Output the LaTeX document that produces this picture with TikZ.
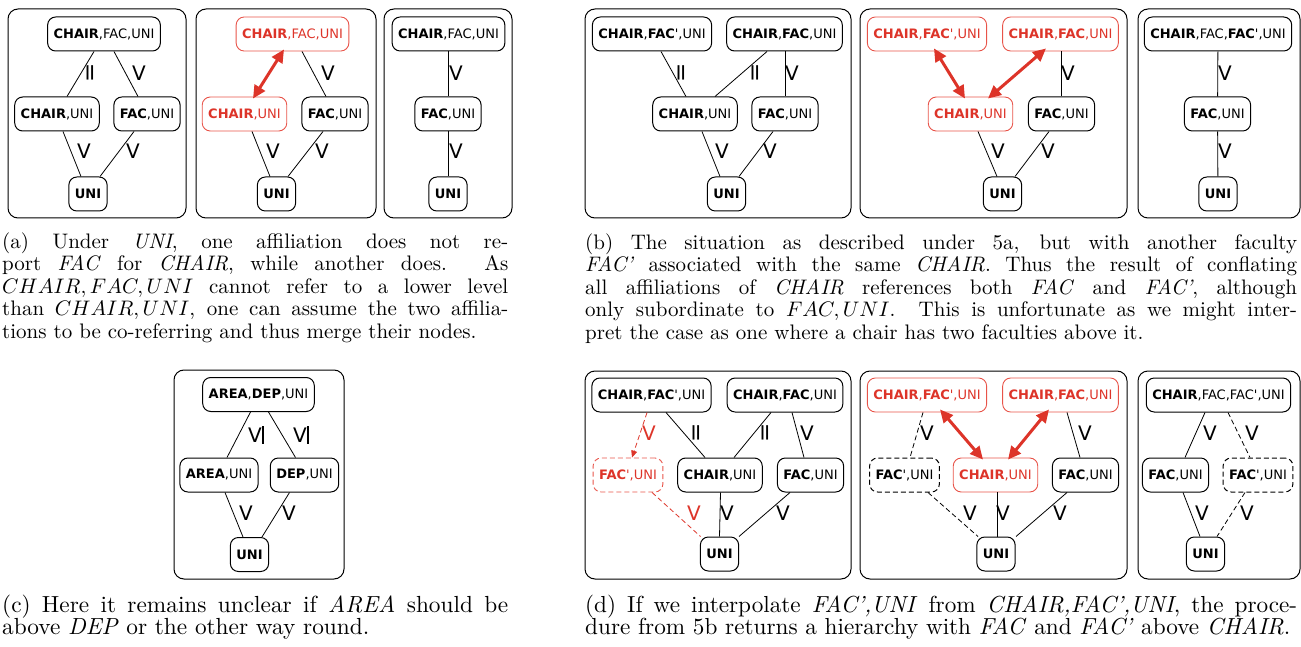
\documentclass[tikz,border=0pt]{standalone}
\usepackage{fontspec}
\usepackage{graphicx}
\usetikzlibrary{arrows.meta}
\newfontfamily\dv{DejaVu Sans}
\definecolor{arrowred}{RGB}{221,52,41}
\definecolor{nodered}{RGB}{232,84,74}
\newcommand\nfont{\dv\fontsize{13}{15}\selectfont}
\newcommand\lfont{\dv\fontsize{20}{20}\selectfont}
\newcommand\efont{\dv\fontsize{23}{23}\selectfont}
\newcommand\bt[1]{{\bfseries #1}}
\newcommand\VB{V\kern0.6pt\rule[-1.5pt]{1.3pt}{17.5pt}}
\newcommand\capl[3]{\scalebox{#1}{\makebox[#2][s]{#3}}}
\newcommand\capn[2]{\scalebox{#1}{#2}}
\begin{document}
\begin{tikzpicture}[x=1pt,y=-1pt,
  frame/.style={draw, line width=1pt, rounded corners=10pt},
  nd/.style={draw, line width=1pt, rounded corners=8pt, minimum height=34pt, inner xsep=6pt, inner ysep=0pt, font=\nfont},
  rnd/.style={nd, draw=nodered, text=arrowred, line width=0.9pt},
  dsh/.style={dash pattern=on 5pt off 3pt},
  ln/.style={line width=0.8pt},
  big/.style={draw=arrowred, line width=3pt, {Triangle[length=13pt,width=12pt]}-{Triangle[length=13pt,width=12pt]}},
  rdarr/.style={draw=arrowred, line width=0.8pt, dsh, -{Triangle[length=7pt,width=6pt]}},
  rdln/.style={draw=arrowred, line width=0.8pt, dsh},
  lab/.style={inner sep=0pt, font=\lfont},
  eqlab/.style={inner sep=0pt, font=\efont, rotate=90},
  captxt/.style={anchor=base west, inner sep=0pt}]
\useasboundingbox (0,0) rectangle (1301,647);

% ---------- frames
\draw[frame] (8,9) rectangle (186,218);
\draw[frame] (196,9) rectangle (376,218);
\draw[frame] (384,9) rectangle (512,218);
\draw[frame] (585,9) rectangle (851,218);
\draw[frame] (860,9) rectangle (1127,218);
\draw[frame] (1138,9) rectangle (1300,218);
\draw[frame] (174,370) rectangle (344,579);
\draw[frame] (585,371) rectangle (851,579);
\draw[frame] (860,371) rectangle (1127,579);
\draw[frame] (1138,371) rectangle (1300,579);

% ---------- panel a1
\node[nd] (a1t) at (104,34) {\bt{CHAIR},FAC,UNI};
\node[nd] (a1c) at (57,114) {\bt{CHAIR},UNI};
\node[nd] (a1f) at (147,114) {\bt{FAC},UNI};
\node[nd] (a1u) at (88,194) {\bt{UNI}};
\draw[ln] ([xshift=-10pt]a1t.south) -- ([xshift=10pt]a1c.north);
\draw[ln] ([xshift=10pt]a1t.south) -- ([xshift=-9pt]a1f.north);
\draw[ln] ([xshift=6pt]a1c.south) -- ([xshift=-7pt]a1u.north);
\draw[ln] ([xshift=-13pt]a1f.south) -- ([xshift=12pt]a1u.north);
\node[eqlab] (a1l1) at (92,73) {=};
\node[lab] (a1l2) at (139,73) {V};
\node[lab] (a1l3) at (84,151) {V};
\node[lab] (a1l4) at (133,151) {V};

% ---------- panel a2
\node[rnd] (a2t) at (292.5,34) {\bt{CHAIR},FAC,UNI};
\node[rnd] (a2c) at (244.5,114) {\bt{CHAIR},UNI};
\node[nd] (a2f) at (335,114) {\bt{FAC},UNI};
\node[nd] (a2u) at (276.5,194) {\bt{UNI}};
\draw[big] ([xshift=-8.5pt,yshift=2pt]a2t.south) -- ([xshift=8.5pt,yshift=-2pt]a2c.north);
\draw[ln] ([xshift=9.5pt]a2t.south) -- ([xshift=-9pt]a2f.north);
\draw[ln] ([xshift=7.5pt]a2c.south) -- ([xshift=-6.5pt]a2u.north);
\draw[ln] ([xshift=-12pt]a2f.south) -- ([xshift=11.5pt]a2u.north);
\node[lab] (a2l1) at (328,73) {V};
\node[lab] (a2l2) at (273,151) {V};
\node[lab] (a2l3) at (322,151) {V};

% ---------- panel a3
\node[nd] (a3t) at (448.5,34) {\bt{CHAIR},FAC,UNI};
\node[nd] (a3f) at (448,114) {\bt{FAC},UNI};
\node[nd] (a3u) at (448,194) {\bt{UNI}};
\draw[ln] ([xshift=-0.5pt]a3t.south) -- (a3f.north);
\draw[ln] (a3f) -- (a3u);
\node[lab] (a3l1) at (456,73) {V};
\node[lab] (a3l2) at (456,151) {V};

% ---------- panel b1
\node[nd] (b1p) at (652,34) {\bt{CHAIR},\bt{FAC}',UNI};
\node[nd] (b1q) at (784.5,34) {\bt{CHAIR},\bt{FAC},UNI};
\node[nd] (b1c) at (695,114) {\bt{CHAIR},UNI};
\node[nd] (b1f) at (785,114) {\bt{FAC},UNI};
\node[nd] (b1u) at (726.5,194) {\bt{UNI}};
\draw[ln] ([xshift=9pt]b1p.south) -- ([xshift=-9pt]b1c.north);
\draw[ln] ([xshift=-17.5pt]b1q.south) -- ([xshift=20pt]b1c.north);
\draw[ln] ([xshift=0.5pt]b1q.south) -- (b1f.north);
\draw[ln] ([xshift=7pt]b1c.south) -- ([xshift=-6.5pt]b1u.north);
\draw[ln] ([xshift=-12pt]b1f.south) -- ([xshift=12.5pt]b1u.north);
\node[eqlab] (b1l1) at (683,73) {=};
\node[eqlab] (b1l2) at (757,73) {=};
\node[lab] (b1l3) at (792,73) {V};
\node[lab] (b1l4) at (722,151) {V};
\node[lab] (b1l5) at (770,151) {V};

% ---------- panel b2
\node[rnd] (b2p) at (927,34) {\bt{CHAIR},\bt{FAC}',UNI};
\node[rnd] (b2q) at (1060.5,34) {\bt{CHAIR},\bt{FAC},UNI};
\node[rnd] (b2c) at (970.5,114) {\bt{CHAIR},UNI};
\node[nd] (b2f) at (1061.5,114) {\bt{FAC},UNI};
\node[nd] (b2u) at (1002.5,194) {\bt{UNI}};
\draw[big] ([xshift=7pt,yshift=3pt]b2p.south) -- ([xshift=-5.5pt,yshift=-2pt]b2c.north);
\draw[big] ([xshift=-14.5pt,yshift=3pt]b2q.south) -- ([xshift=17.5pt,yshift=-2pt]b2c.north);
\draw[ln] ([xshift=1pt]b2q.south) -- (b2f.north);
\draw[ln] ([xshift=7.5pt]b2c.south) -- ([xshift=-5.5pt]b2u.north);
\draw[ln] ([xshift=-12.5pt]b2f.south) -- ([xshift=12.5pt]b2u.north);
\node[lab] (b2l1) at (1068,73) {V};
\node[lab] (b2l2) at (998,151) {V};
\node[lab] (b2l3) at (1048,151) {V};

% ---------- panel b3
\node[nd] (b3t) at (1218,34) {\bt{CHAIR},FAC,\bt{FAC}',UNI};
\node[nd] (b3f) at (1217.5,114) {\bt{FAC},UNI};
\node[nd] (b3u) at (1218,194) {\bt{UNI}};
\draw[ln] (b3t) -- (b3f);
\draw[ln] (b3f) -- (b3u);
\node[lab] (b3l1) at (1225,73) {V};
\node[lab] (b3l2) at (1225,151) {V};

% ---------- panel c
\node[nd] (ct) at (258.5,394.5) {\bt{AREA},\bt{DEP},UNI};
\node[nd] (ca) at (219,475) {\bt{AREA},UNI};
\node[nd] (cd) at (304.5,475) {\bt{DEP},UNI};
\node[nd] (cu) at (249.5,554.5) {\bt{UNI}};
\draw[ln] ([xshift=-8pt]ct.south) -- ([xshift=8pt]ca.north);
\draw[ln] ([xshift=10pt]ct.south) -- ([xshift=-9pt]cd.north);
\draw[ln] ([xshift=6pt]ca.south) -- ([xshift=-6.5pt]cu.north);
\draw[ln] ([xshift=-15pt]cd.south) -- ([xshift=12.5pt]cu.north);
\node[lab] (cl1) at (256,435) {\VB};
\node[lab] (cl2) at (301,435) {\VB};
\node[lab] (cl3) at (246,513) {V};
\node[lab] (cl4) at (289,513) {V};

% ---------- panel d1
\node[nd] (d1p) at (651.5,395) {\bt{CHAIR},\bt{FAC}',UNI};
\node[nd] (d1q) at (785,395) {\bt{CHAIR},\bt{FAC},UNI};
\node[rnd, dsh] (d1x) at (628,475) {\bt{FAC}',UNI};
\node[nd] (d1c) at (720,475) {\bt{CHAIR},UNI};
\node[nd] (d1f) at (810.5,475) {\bt{FAC},UNI};
\node[nd] (d1u) at (719.5,554) {\bt{UNI}};
\draw[rdarr] ([xshift=-4.5pt]d1p.south) -- ([xshift=4pt]d1x.north);
\draw[ln] ([xshift=14.5pt]d1p.south) -- ([xshift=-15pt]d1c.north);
\draw[ln] ([xshift=-14pt]d1q.south) -- ([xshift=14pt]d1c.north);
\draw[ln] ([xshift=7pt]d1q.south) -- ([xshift=-6.5pt]d1f.north);
\draw[rdln] ([xshift=24pt]d1x.south) -- ([xshift=-19pt]d1u.north);
\draw[ln] ([xshift=0.5pt]d1c.south) -- (d1u.north);
\draw[ln] ([xshift=-20.5pt]d1f.south) -- ([xshift=19.5pt]d1u.north);
\node[lab, text=arrowred] (d1l1) at (649,433) {V};
\node[eqlab] (d1l2) at (698,433) {=};
\node[eqlab] (d1l3) at (767,433) {=};
\node[lab] (d1l4) at (807,433) {V};
\node[lab, text=arrowred] (d1l5) at (694,513) {V};
\node[lab] (d1l6) at (727,513) {V};
\node[lab] (d1l7) at (783,513) {V};

% ---------- panel d2
\node[rnd] (d2p) at (927,395) {\bt{CHAIR},\bt{FAC}',UNI};
\node[rnd] (d2q) at (1060.5,395) {\bt{CHAIR},\bt{FAC},UNI};
\node[nd, dsh] (d2x) at (904.5,475) {\bt{FAC}',UNI};
\node[rnd] (d2c) at (995.5,475) {\bt{CHAIR},UNI};
\node[nd] (d2f) at (1085.5,475) {\bt{FAC},UNI};
\node[nd] (d2u) at (996,554) {\bt{UNI}};
\draw[ln, dsh] ([xshift=-4pt]d2p.south) -- ([xshift=5.5pt]d2x.north);
\draw[big] ([xshift=13pt,yshift=3pt]d2p.south) -- ([xshift=-12.5pt,yshift=-2pt]d2c.north);
\draw[big] ([xshift=-11.5pt,yshift=3pt]d2q.south) -- ([xshift=12.5pt,yshift=-2pt]d2c.north);
\draw[ln] ([xshift=6.5pt]d2q.south) -- ([xshift=-5.5pt]d2f.north);
\draw[ln, dsh] ([xshift=23.5pt]d2x.south) -- ([xshift=-18pt]d2u.north);
\draw[ln] ([xshift=1.5pt]d2c.south) -- ([xshift=1pt]d2u.north);
\draw[ln] ([xshift=-18.5pt]d2f.south) -- ([xshift=20pt]d2u.north);
\node[lab] (d2l1) at (927,433) {V};
\node[lab] (d2l2) at (1085,433) {V};
\node[lab] (d2l3) at (970,513) {V};
\node[lab] (d2l4) at (1003,513) {V};
\node[lab] (d2l5) at (1060,513) {V};

% ---------- panel d3
\node[nd] (d3t) at (1218.5,395) {\bt{CHAIR},FAC,FAC',UNI};
\node[nd] (d3f) at (1175.5,475) {\bt{FAC},UNI};
\node[nd, dsh] (d3x) at (1258,475) {\bt{FAC}',UNI};
\node[nd] (d3u) at (1205.5,554) {\bt{UNI}};
\draw[ln] ([xshift=-13.5pt]d3t.south) -- ([xshift=9.5pt]d3f.north);
\draw[ln, dsh] ([xshift=9.5pt]d3t.south) -- ([xshift=-8pt]d3x.north);
\draw[ln] ([xshift=7.5pt]d3f.south) -- ([xshift=-5.5pt]d3u.north);
\draw[ln, dsh] ([xshift=-13pt]d3x.south) -- ([xshift=11.5pt]d3u.north);
\node[lab] (d3l1) at (1210,433) {V};
\node[lab] (d3l2) at (1252,433) {V};
\node[lab] (d3l3) at (1202,513) {V};
\node[lab] (d3l4) at (1247,513) {V};

% ---------- captions
\node[captxt] (capa1) at (2,248) {\capl{2.1}{241pt}{(a) Under \textit{UNI}, one affiliation does not re-}};
\node[captxt] (capa2) at (2,270.5) {\capl{2.1}{241pt}{port \textit{FAC} for \textit{CHAIR}, while another does. As}};
\node[captxt] (capa3) at (2,293) {\capl{2.1}{241pt}{$CHAIR,FAC,UNI$ cannot refer to a lower level}};
\node[captxt] (capa4) at (2,315.5) {\capl{2.1}{241pt}{than $CHAIR,UNI$, one can assume the two affilia-}};
\node[captxt] (capa5) at (2,338) {\capn{2.1}{tions to be co-referring and thus merge their nodes.}};

\node[captxt] (capb1) at (585,249) {\capl{2.1}{339pt}{(b) The situation as described under 5a, but with another faculty}};
\node[captxt] (capb2) at (585,271.5) {\capl{2.1}{339pt}{\textit{FAC'} associated with the same \textit{CHAIR}. Thus the result of conflating}};
\node[captxt] (capb3) at (585,294) {\capl{2.1}{339pt}{all affiliations of \textit{CHAIR} references both \textit{FAC} and \textit{FAC'}, although}};
\node[captxt] (capb4) at (585,316.5) {\capl{2.1}{339pt}{only subordinate to $FAC,UNI$. This is unfortunate as we might inter-}};
\node[captxt] (capb5) at (585,339) {\capn{2.1}{pret the case as one where a chair has two faculties above it.}};

\node[captxt] (capc1) at (2,612) {\capl{2.33}{217.2pt}{(c) Here it remains unclear if \textit{AREA} should be}};
\node[captxt] (capc2) at (2,634.5) {\capn{2.33}{above \textit{DEP} or the other way round.}};

\node[captxt] (capd1) at (585,612) {\capl{2.32}{306.9pt}{(d) If we interpolate \textit{FAC',UNI} from \textit{CHAIR,FAC',UNI}, the proce-}};
\node[captxt] (capd2) at (585,634.5) {\capn{2.32}{dure from 5b returns a hierarchy with \textit{FAC} and \textit{FAC'} above \textit{CHAIR}.}};
\end{tikzpicture}
\end{document}
